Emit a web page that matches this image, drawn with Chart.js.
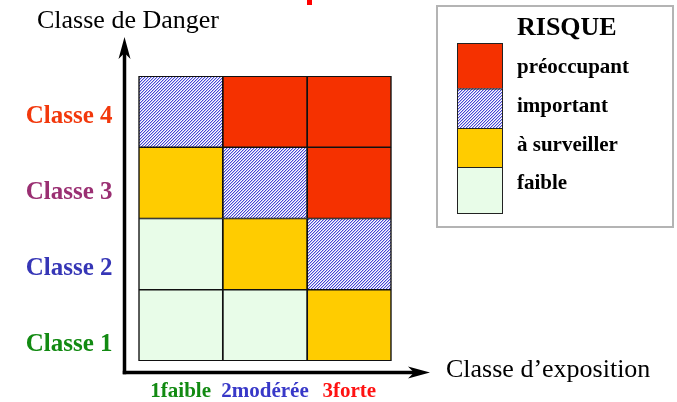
<!DOCTYPE html>
<html><head><meta charset="utf-8">
<script src="https://cdn.jsdelivr.net/npm/chart.js@4/dist/chart.umd.min.js"></script>
<style>html,body{margin:0;padding:0;background:#fff;overflow:hidden}#wrap{width:677px;height:402px;position:relative}</style>
</head><body><div id="wrap"><canvas id="c" width="677" height="402"></canvas></div>
<script>
// ---- data ----
const exposureLabels = ['1faible', '2modérée', '3forte'];
const exposureColors = ['#128a12', '#3838c8', '#ff1212'];
const dangerLabels = ['Classe 1', 'Classe 2', 'Classe 3', 'Classe 4'];
const dangerColors = ['#128a12', '#3636b6', '#9a2f72', '#f2380c'];
const riskLabels = ['faible', 'à surveiller', 'important', 'préoccupant'];
// risk level of each cell (0 = faible … 3 = préoccupant), one array per danger class, columns = exposure class
const riskClasse1 = [0, 0, 1];
const riskClasse2 = [0, 1, 2];
const riskClasse3 = [1, 2, 3];
const riskClasse4 = [2, 3, 3];
const cellSpan = [1, 1, 1];
const axisTitleY = 'Classe de Danger';
const axisTitleX = 'Classe d’exposition';
const legendTitle = 'RISQUE';

const SERIF = "'Liberation Serif', 'Times New Roman', serif";

// hatched pattern for "important"
function hatch() {
  const t = document.createElement('canvas');
  t.width = 3; t.height = 3;
  const g = t.getContext('2d');
  g.fillStyle = '#ffffff'; g.fillRect(0, 0, 3, 3);
  g.fillStyle = '#4646d6';
  // one-pixel diagonal "/" stripe
  g.fillRect(2, 0, 1, 1);
  g.fillRect(1, 1, 1, 1);
  g.fillRect(0, 2, 1, 1);
  g.fillStyle = 'rgba(70,70,214,0.35)';
  g.fillRect(0, 0, 1, 1);
  g.fillRect(2, 1, 1, 1);
  g.fillRect(1, 2, 1, 1);
  return document.getElementById('c').getContext('2d').createPattern(t, 'repeat');
}
const riskFills = ['#e8fce8', '#ffcc00', hatch(), '#f53100'];
const rows = [riskClasse1, riskClasse2, riskClasse3, riskClasse4];

function arrow(ctx, x0, y0, x1, y1) {
  const ang = Math.atan2(y1 - y0, x1 - x0);
  const L = 22, N = 16, W = 6;
  const cx = Math.cos(ang), sy = Math.sin(ang);
  ctx.beginPath();
  ctx.moveTo(x0, y0);
  ctx.lineTo(x1 - cx * N, y1 - sy * N);
  ctx.stroke();
  ctx.beginPath();
  ctx.moveTo(x1, y1);
  ctx.lineTo(x1 - cx * L - sy * W, y1 - sy * L + cx * W);
  ctx.lineTo(x1 - cx * N, y1 - sy * N);
  ctx.lineTo(x1 - cx * L + sy * W, y1 - sy * L - cx * W);
  ctx.closePath();
  ctx.fill();
}

const decor = {
  id: 'decor',
  afterDraw(chart) {
    const ctx = chart.ctx, ca = chart.chartArea;
    ctx.save();
    // outer frame of the matrix
    ctx.strokeStyle = '#111'; ctx.lineWidth = 1;
    ctx.strokeRect(ca.left + 0.5, ca.top + 0.5, ca.right - ca.left - 1, ca.bottom - ca.top - 1);
    // axes with arrows
    const ax = ca.left - 14, ay = ca.bottom + 11.5;
    ctx.strokeStyle = '#000'; ctx.fillStyle = '#000'; ctx.lineWidth = 3.5; ctx.lineCap = 'butt';
    arrow(ctx, ax, ay + 1.75, ax, ca.top - 39);
    arrow(ctx, ax - 1.75, ay, ca.right + 38.5, ay);
    // axis titles
    ctx.font = '26px ' + SERIF;
    ctx.textBaseline = 'middle'; ctx.textAlign = 'left';
    ctx.fillText(axisTitleY, 37, 21);
    ctx.fillText(axisTitleX, 446, 370);
    // cut-off red title fragment at top
    ctx.fillStyle = '#f00';
    ctx.fillRect(307, 0, 5, 5);
    // legend box
    ctx.strokeStyle = '#b4b4b4'; ctx.lineWidth = 2;
    ctx.strokeRect(437, 6, 236, 221);
    ctx.fillStyle = '#000';
    ctx.font = 'bold 26px ' + SERIF;
    ctx.fillText(legendTitle, 517, 28);
    const bounds = [43, 88.5, 128, 167, 213];
    ctx.font = 'bold 21px ' + SERIF;
    const order = [3, 2, 1, 0];
    order.forEach((lvl, i) => {
      const y0 = bounds[i], y1 = bounds[i + 1];
      ctx.fillStyle = riskFills[lvl];
      ctx.fillRect(457, y0, 46, y1 - y0);
      ctx.strokeStyle = '#222'; ctx.lineWidth = 1;
      ctx.strokeRect(457.5, y0 + 0.5, 45, y1 - y0);
      ctx.fillStyle = '#000';
      ctx.fillText(riskLabels[lvl], 517, [68, 107, 146, 184][i]);
    });
    ctx.restore();
  }
};

new Chart(document.getElementById('c'), {
  type: 'bar',
  data: {
    labels: exposureLabels,
    datasets: rows.map((r, i) => ({
      label: dangerLabels[i],
      data: cellSpan,
      backgroundColor: r.map(l => riskFills[l]),
      borderColor: '#111111',
      borderWidth: 1.2,
      borderSkipped: false,
      categoryPercentage: 1,
      barPercentage: 1,
      yAxisID: 'y',
      stack: 's'
    }))
  },
  options: {
    responsive: false,
    animation: false,
    devicePixelRatio: 1,
    layout: { padding: { top: 76, right: 285.5, left: 0, bottom: 0 } },
    plugins: { legend: { display: false }, tooltip: { enabled: false } },
    scales: {
      x: {
        stacked: true,
        grid: { display: false, drawTicks: false },
        border: { display: false },
        ticks: {
          autoSkip: false, maxRotation: 0, minRotation: 0,
          color: c => exposureColors[c.index],
          font: { family: SERIF, size: 21, weight: 'bold' },
          padding: 18
        },
        afterFit: s => { s.height = 40.5; }
      },
      y: { stacked: true, display: false, min: 0, max: 4 },
      yl: {
        type: 'linear', position: 'left', min: 0.783, max: 4.539,
        grid: { display: false, drawTicks: false },
        border: { display: false },
        afterBuildTicks: s => { s.ticks = dangerLabels.map((_, i) => ({ value: i + 1 })); },
        ticks: {
          autoSkip: false,
          callback: (v, i) => dangerLabels[i],
          color: c => dangerColors[c.index],
          font: { family: SERIF, size: 25, weight: 'bold' },
          padding: 26
        },
        afterFit: s => { s.width = 138.5; }
      }
    }
  },
  plugins: [decor]
});
</script>
</body></html>
